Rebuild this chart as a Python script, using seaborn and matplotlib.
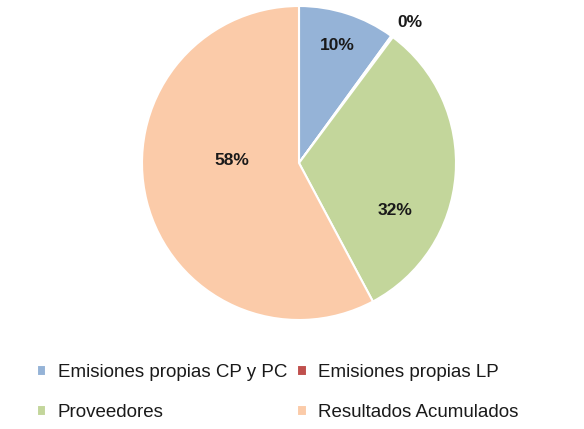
import matplotlib
matplotlib.use("Agg")
import matplotlib.pyplot as plt
import seaborn as sns
import numpy as np

categories = ["Emisiones propias CP y PC", "Emisiones propias LP",
              "Proveedores", "Resultados Acumulados"]
shares = [10.0, 0.2, 32.0, 57.8]
pct_labels = ["10%", "0%", "32%", "58%"]

colors = sns.color_palette(["#95B3D7", "#C0504D", "#C3D69B", "#FBCBA9"])
# label placement (radius, angle shift from slice middle), like Excel "best fit"
label_radius = [0.79, 1.14, 0.68, 0.43]
label_shift = [0, -2, -22, -16]

sns.set_theme(style="white")
plt.rcParams["font.family"] = ["Liberation Sans", "DejaVu Sans"]

fig = plt.figure(figsize=(5.84, 4.29), dpi=100)
ax = fig.add_axes([142 / 584, 1 - 320 / 429, 314 / 584, 314 / 429])

wedges, _ = ax.pie(shares, colors=colors, startangle=90, counterclock=False,
                   radius=1, wedgeprops=dict(edgecolor="white", linewidth=1.5))
ax.set_xlim(-1, 1)
ax.set_ylim(-1, 1)
ax.set_aspect("equal")
ax.axis("off")

cum = np.cumsum([0] + shares)
total = cum[-1]
for i, lab in enumerate(pct_labels):
    mid = 90 - (cum[i] + cum[i + 1]) / 2 / total * 360 + label_shift[i]
    r = label_radius[i]
    ax.text(r * np.cos(np.radians(mid)), r * np.sin(np.radians(mid)), lab,
            ha="center", va="center", fontsize=12.5, fontweight="bold",
            color="#1a1a1a")

# row-wise order like the original legend
order = [0, 2, 1, 3]
leg = fig.legend([wedges[i] for i in order], [categories[i] for i in order],
                 ncol=2, loc="upper left",
                 bbox_to_anchor=(20 / 584, 1 - 347 / 429), frameon=False,
                 fontsize=13.5, handlelength=0.5, handleheight=0.5,
                 handletextpad=0.6, columnspacing=0.55, labelspacing=1.25)
for t in leg.get_texts():
    t.set_color("#1a1a1a")

fig.savefig("out.png", dpi=100)
